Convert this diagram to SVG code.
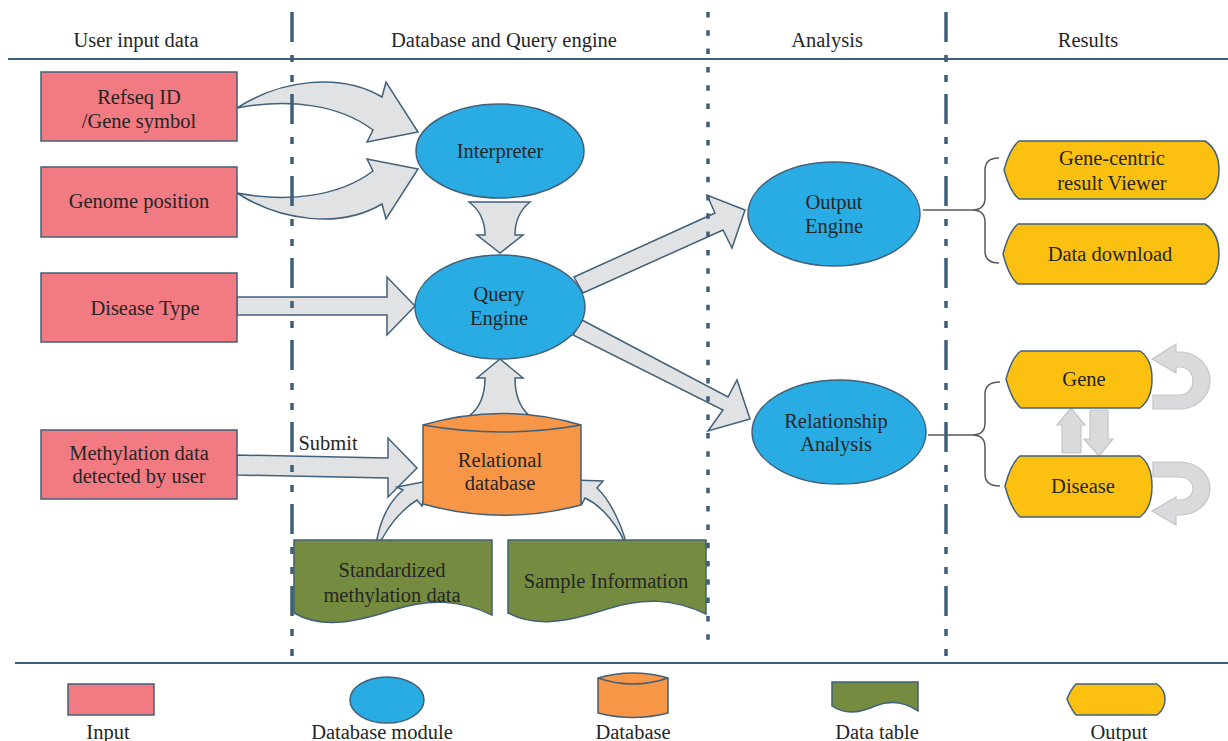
<svg xmlns="http://www.w3.org/2000/svg" width="1228" height="741" viewBox="0 0 1228 741">
<style>
text{font-family:"Liberation Serif","Times New Roman",serif;font-size:20.5px;fill:#262626;text-anchor:middle}
.inp{fill:#F27A82;stroke:#41607A;stroke-width:1.5}
.mod{fill:#29ACE3;stroke:#41607A;stroke-width:1.5}
.db{fill:#F79646;stroke:#41607A;stroke-width:1.5}
.tbl{fill:#758C40;stroke:#41607A;stroke-width:1.5}
.out{fill:#FCC010;stroke:#41607A;stroke-width:1.5}
.arr{fill:#E1E2E4;stroke:#41607A;stroke-width:1.5;stroke-linejoin:miter}
.lt{fill:#D9DADC;stroke:#C4C5C7;stroke-width:1.2}
.brace{fill:none;stroke:#5A5A5A;stroke-width:1.5}
.sep{fill:none;stroke:#3E5F78;stroke-width:3.5}
.hl{stroke:#3E5F78;stroke-width:2.2}
</style>

<!-- connectors -->
<g id="connectors">
  <path id="c-refseq" class="arr" d="M237,108 C280,80 340,72 382,97 L386,82 L418,132 L367,142 L373,130 C340,105 290,98 237,108 Z"/>
  <path id="c-genome" class="arr" transform="translate(0,301) scale(1,-1)" d="M237,108 C280,80 340,72 382,97 L386,82 L418,132 L367,142 L373,130 C340,105 290,98 237,108 Z"/>
  <path id="c-disease" class="arr" d="M237,297 H387 V277 L415,306 L387,335 V315 H237 Z"/>
  <path id="c-methyl" class="arr" d="M237,455 L388,458 V438 L417,468 L388,497 V478 L237,475 Z"/>
  <path id="c-interp-query" class="arr" d="M469,202 H530 Q515,214 515,235 H523 L500,253 L477,235 H485 Q485,214 469,202 Z"/>
  <path id="c-db-query" class="arr" d="M500,359 L523,378 H515 Q515,404 530,416 H469 Q485,404 485,378 H477 Z"/>
  <path id="c-query-output" class="arr" d="M574,277 L715,213 L707,195 L745,210 L732,248 L723,230 L583,293 Z"/>
  <path id="c-query-rel" class="arr" d="M582,320 L728,397 L737,380 L750,419 L708,431 L723,410 L573,335 Z"/>
  <path id="c-std-db" class="arr" d="M375,553 C377,530 385,505 403,490 L397,487 L428,481 L422,506 L417,500 C398,512 385,530 375,553 Z"/>
  <path id="c-sample-db" class="arr" d="M628,552 C624,528 610,500 597,488 L603,481 L573,480 L582,504 L585,498 C600,505 620,525 628,552 Z"/>
  <path id="c-output-brace" class="brace" d="M923,210 H972 M999,158 Q985,158 985,170 V198 Q985,210 972,210 Q985,210 985,222 V251 Q985,263 999,263"/>
  <path id="c-rel-brace" class="brace" d="M928,435 H972 M1000,382 Q985,382 985,394 V423 Q985,435 972,435 Q985,435 985,447 V474 Q985,486 1000,486"/>
  <path id="c-gene-loop" class="lt" d="M1153,395 H1180 A13,14 0 0 0 1180,367 H1176 V373 L1152,359 L1176,344 V352 H1180 A30,28.5 0 0 1 1180,409 H1153 Z"/>
  <path id="c-disease-loop" class="lt" d="M1153,462 H1180 A30,26.5 0 0 1 1180,515 H1176 V525 L1152,511 L1176,497 V500 H1180 A13,11.5 0 0 0 1180,477 H1153 Z"/>
  <path id="c-disease-gene" class="lt" d="M1071,408 L1085,425 H1081 V453 H1062 V425 H1057 Z"/>
  <path id="c-gene-disease" class="lt" d="M1090,410 H1108 V439 H1113 L1099,456 L1084,439 H1090 Z"/>
</g>

<!-- input nodes -->
<g id="n-refseq"><rect class="inp" x="41" y="72" width="196" height="69"/><text x="139" y="104">Refseq ID</text><text x="139" y="128">/Gene symbol</text></g>
<g id="n-genome"><rect class="inp" x="41" y="167" width="196" height="70"/><text x="139" y="208">Genome position</text></g>
<g id="n-diseasetype"><rect class="inp" x="41" y="273" width="196" height="69"/><text x="145" y="315">Disease Type</text></g>
<g id="n-methyl"><rect class="inp" x="41" y="430" width="196" height="69"/><text x="139" y="460">Methylation data</text><text x="139" y="483">detected by user</text></g>

<!-- modules -->
<g id="n-interpreter"><ellipse class="mod" cx="500" cy="151" rx="84" ry="47"/><text x="500" y="158">Interpreter</text></g>
<g id="n-query"><ellipse class="mod" cx="500" cy="307" rx="85" ry="52"/><text x="499" y="301">Query</text><text x="499" y="325">Engine</text></g>
<g id="n-output"><ellipse class="mod" cx="834" cy="214" rx="86" ry="52"/><text x="834" y="209">Output</text><text x="834" y="233">Engine</text></g>
<g id="n-relationship"><ellipse class="mod" cx="839" cy="432" rx="87" ry="52"/><text x="836" y="428">Relationship</text><text x="836" y="451">Analysis</text></g>

<!-- database -->
<g id="n-reldb"><path class="db" d="M423,425 Q502,402 581,425 V505 Q502,526 423,504 Z"/><path class="db" style="fill:none" d="M423,425 Q502,439 581,425"/><text x="500" y="467">Relational</text><text x="500" y="490">database</text></g>

<!-- data tables -->
<g id="n-std"><path class="tbl" d="M294,540 H492 V615 C460,600 430,598 393,610 C350,624 320,628 294,613 Z"/><text x="392" y="577">Standardized</text><text x="392" y="602">methylation data</text></g>
<g id="n-sample"><path class="tbl" d="M508,540 H706 V614 C674,599 644,597 607,609 C564,623 534,627 508,613 Z"/><text x="606" y="588">Sample Information</text></g>

<!-- outputs -->
<g id="n-viewer"><path class="out" d="M1004,170 Q1010,148 1019,141 H1205 Q1219,150 1219,170 Q1219,190 1205,199 H1019 Q1010,192 1004,170 Z"/><text x="1112" y="165">Gene-centric</text><text x="1112" y="190">result Viewer</text></g>
<g id="n-download"><path class="out" d="M1003,254 Q1009,231 1018,224 H1205 Q1219,233 1219,254 Q1219,275 1205,284 H1018 Q1009,277 1003,254 Z"/><text x="1110" y="261">Data download</text></g>
<g id="n-gene"><path class="out" d="M1006,379 Q1012,357 1021,351 H1140 Q1152,359 1152,379 Q1152,399 1140,408 H1021 Q1012,401 1006,379 Z"/><text x="1084" y="386">Gene</text></g>
<g id="n-disease"><path class="out" d="M1005,486 Q1011,463 1020,456 H1140 Q1152,465 1152,486 Q1152,508 1140,517 H1020 Q1011,509 1005,486 Z"/><text x="1083" y="493">Disease</text></g>

<text x="328" y="450">Submit</text>

<!-- header, frame and separators -->
<g id="frame">
  <line class="hl" x1="8" y1="59" x2="1228" y2="59"/>
  <line class="hl" x1="15" y1="663" x2="1228" y2="663"/>
  <line class="sep" x1="292" y1="12" x2="292" y2="666" stroke-dasharray="30 13 7 13 7 12"/>
  <line class="sep" x1="708" y1="12" x2="708" y2="645" stroke-width="3.2" stroke-dasharray="5.5 12.8"/>
  <line class="sep" x1="946" y1="12" x2="946" y2="666" stroke-dasharray="30 13 7 13 7 12"/>
  <text x="136" y="47">User input data</text>
  <text x="504" y="47">Database and Query engine</text>
  <text x="827" y="47">Analysis</text>
  <text x="1088" y="47">Results</text>
</g>

<!-- legend -->
<g id="legend">
  <rect class="inp" x="68" y="684" width="86" height="31"/>
  <ellipse class="mod" cx="387" cy="700" rx="37" ry="23"/>
  <path class="db" d="M598,678 Q633,668 668,678 V713 Q633,722 598,713 Z"/>
  <path class="db" style="fill:none" d="M598,678 Q633,690 668,678"/>
  <path class="tbl" d="M832,682 H918 V711 C905,702 890,700 875,706 C860,713 845,715 832,706 Z"/>
  <path class="out" d="M1067,699 Q1071,689 1076,684 H1157 Q1165,690 1165,699 Q1165,709 1157,715 H1076 Q1071,709 1067,699 Z"/>
  <text x="108" y="739">Input</text>
  <text x="382" y="739">Database module</text>
  <text x="633" y="739">Database</text>
  <text x="877" y="739">Data table</text>
  <text x="1119" y="739">Output</text>
</g>
</svg>
